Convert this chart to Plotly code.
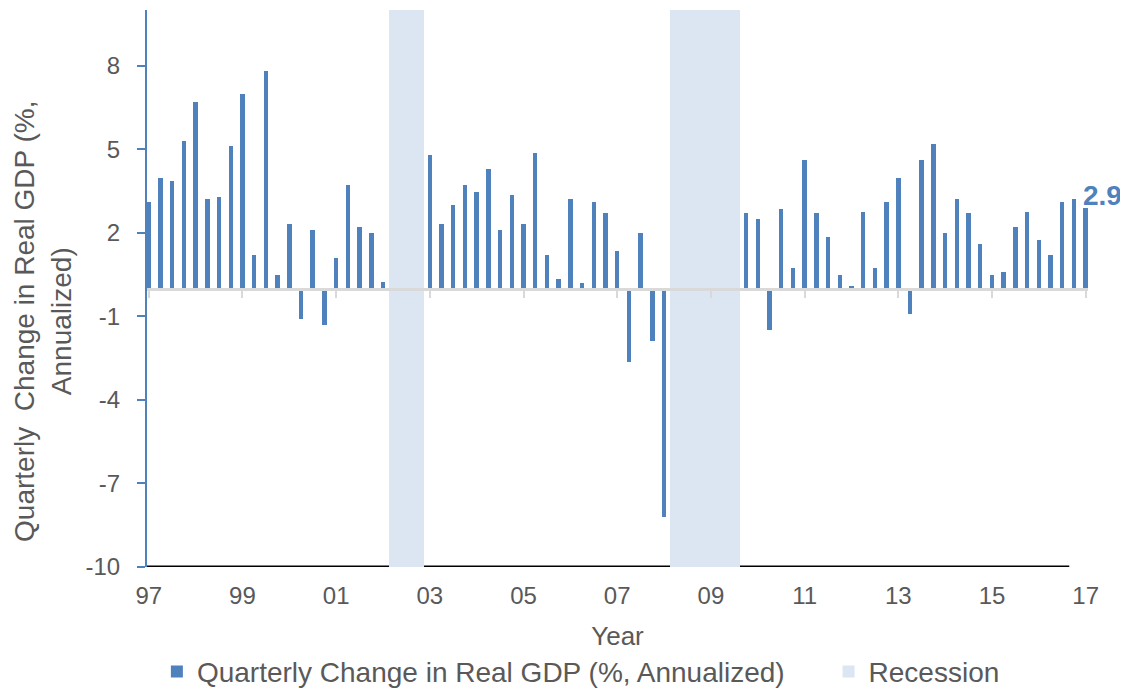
import plotly.graph_objects as go

# Quarterly change in real GDP (%, annualized); None = hidden behind recession band
gdp = [3.1, 3.95, 3.85, 5.3, 6.7, 3.2, 3.3, 5.1, 7.0, 1.2,
       7.8, 0.5, 2.3, -1.1, 2.1, -1.3, 1.1, 3.7, 2.2, 2.0,
       0.25, 2.1, None, None, 4.8, 2.3, 3.0, 3.7, 3.45, 4.3,
       2.1, 3.35, 2.3, 4.85, 1.2, 0.35, 3.2, 0.2, 3.1, 2.7,
       1.35, -2.65, 2.0, -1.9, -8.2, None, None, None, None, None,
       None, 2.7, 2.5, -1.5, 2.85, 0.75, 4.6, 2.7, 1.85, 0.5,
       0.1, 2.75, 0.75, 3.1, 3.95, -0.9, 4.6, 5.2, 2.0, 3.2,
       2.7, 1.6, 0.5, 0.6, 2.2, 2.75, 1.75, 1.2, 3.1, 3.2,
       2.9]
recession_quarters = [21, 22, 23, 45, 46, 47, 48, 49, 50]
year_labels = ["97", "99", "01", "03", "05", "07", "09", "11", "13", "15", "17"]
label_every = 8
y_ticks = [-10, -7, -4, -1, 2, 5, 8]
y_tick_text = ["-10", "-7", "-4", "-1", "2", "5", "8"]
last_label = "2.9"

n = len(gdp)
quarters = list(range(n))
rec_flag = [1 if q in recession_quarters else 0 for q in quarters]
y_min, y_max = -10, 10
x_range = [-0.15, 80.2]

BLUE = "#4f81bd"
REC = "#dce6f2"
GRAY_TXT = "#595959"
FONT = "Liberation Sans, Arial, sans-serif"
PAD = "\u00a0" * 5  # extra spacing between legend entries

fig = go.Figure()
fig.add_trace(go.Bar(
    x=quarters, y=gdp, width=0.38, marker=dict(color=BLUE, line=dict(width=0)),
    name="Quarterly Change in Real GDP (%, Annualized)" + PAD))
fig.add_trace(go.Bar(
    x=quarters, y=[(y_max - y_min) if f else None for f in rec_flag], base=y_min,
    width=1.0, marker=dict(color=REC, line=dict(width=0)), name="Recession"))

tickvals = [i * label_every for i in range(len(year_labels))]

# invisible helper trace on xaxis2 so the zero-axis appears
fig.add_trace(go.Scatter(x=[0], y=[0], xaxis="x2", mode="markers",
                         marker=dict(opacity=0), showlegend=False, hoverinfo="skip"))

# dark baseline along the bottom of the plot (hidden behind recession bands)
fig.add_shape(type="line", xref="x", yref="y", x0=x_range[0], x1=78.6, y0=y_min, y1=y_min,
              line=dict(color="black", width=3), layer="below")

fig.add_annotation(x=n - 1, y=gdp[-1], text="<b>" + last_label + "</b>", showarrow=False,
                   xanchor="left", yanchor="bottom", xshift=-5, yshift=-5,
                   font=dict(size=28, color=BLUE, family=FONT))

fig.add_annotation(xref="paper", yref="paper", x=-0.111, y=0.441,
                   xanchor="center", yanchor="middle",
                   text="Quarterly  Change in Real GDP (%,<br>Annualized)",
                   textangle=-90, showarrow=False, align="center",
                   font=dict(size=28, color=GRAY_TXT, family=FONT))

fig.update_layout(
    width=1120, height=682,
    margin=dict(l=139, r=40, t=2, b=123, autoexpand=False),
    plot_bgcolor="white", paper_bgcolor="white",
    barmode="overlay", bargap=0,
    font=dict(family=FONT, color=GRAY_TXT, size=22),
    showlegend=True,
    legend=dict(orientation="h", x=0.0105, xanchor="left", y=-0.188, yanchor="middle",
                font=dict(size=28, color=GRAY_TXT), traceorder="normal",
                itemwidth=30, bgcolor="rgba(0,0,0,0)"),
    xaxis=dict(range=x_range, tickvals=tickvals, ticktext=year_labels,
               showgrid=False, zeroline=False, showline=False,
               ticks="", ticklabelstandoff=12,
               tickfont=dict(size=24, color=GRAY_TXT),
               title=dict(text="Year", font=dict(size=26, color=GRAY_TXT), standoff=18)),
    xaxis2=dict(range=x_range, overlaying="x", anchor="free", position=0.5,
                matches="x", tickvals=tickvals, showticklabels=False, showgrid=False,
                zeroline=False, showline=True, linecolor="#d9d9d9", linewidth=3,
                ticks="outside", ticklen=7, tickwidth=2, tickcolor="#d9d9d9"),
    yaxis=dict(range=[y_min, y_max], tickvals=y_ticks, ticktext=y_tick_text,
               showgrid=False, zeroline=False, showline=True, linecolor=BLUE,
               linewidth=2, ticks="outside", ticklen=8, tickwidth=2, tickcolor=BLUE,
               ticklabelstandoff=12, tickfont=dict(size=24, color=GRAY_TXT)),
)

fig.write_html("out.html")
